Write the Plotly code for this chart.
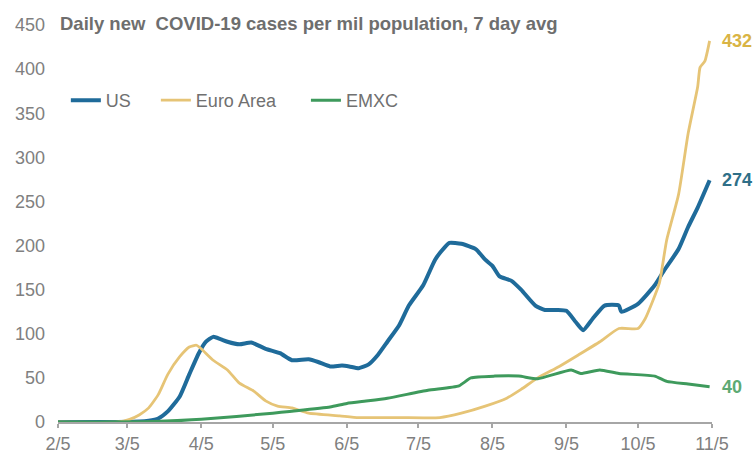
import plotly.graph_objects as go

# Daily new COVID-19 cases per million population, 7-day average (2020)
us_dates = ["2020-02-05", "2020-03-01", "2020-03-10", "2020-03-14", "2020-03-18", "2020-03-22",
            "2020-03-27", "2020-03-31", "2020-04-04", "2020-04-07", "2020-04-10", "2020-04-13",
            "2020-04-16", "2020-04-21", "2020-04-26", "2020-05-02", "2020-05-08", "2020-05-13",
            "2020-05-20", "2020-05-24", "2020-05-29", "2020-06-03", "2020-06-06", "2020-06-10",
            "2020-06-14", "2020-06-18", "2020-06-22", "2020-06-27", "2020-07-01", "2020-07-07",
            "2020-07-12", "2020-07-16", "2020-07-18", "2020-07-23", "2020-07-29", "2020-08-02",
            "2020-08-05", "2020-08-08", "2020-08-13", "2020-08-17", "2020-08-23", "2020-08-27",
            "2020-09-01", "2020-09-05", "2020-09-09", "2020-09-12", "2020-09-16", "2020-09-21",
            "2020-09-27", "2020-09-28", "2020-10-05", "2020-10-12", "2020-10-16", "2020-10-22",
            "2020-10-26", "2020-10-30", "2020-11-04"]
us_values = [0, 0, 0.5, 1.5, 4, 12,
             29, 54, 78, 91, 96.5, 94,
             91, 88, 90, 83, 78, 70,
             71, 68, 63, 64, 63, 61,
             65, 76, 91, 110, 132, 155,
             184, 198, 203, 202, 196, 184,
             177, 165, 160, 150, 132, 127,
             127, 126, 113, 104, 117, 132,
             132, 125, 134, 155, 172, 196,
             221, 243, 274]

euro_dates = ["2020-02-05", "2020-03-01", "2020-03-06", "2020-03-10", "2020-03-14", "2020-03-18",
              "2020-03-22", "2020-03-27", "2020-03-31", "2020-04-03", "2020-04-05", "2020-04-10",
              "2020-04-16", "2020-04-21", "2020-04-27", "2020-05-02", "2020-05-07", "2020-05-13",
              "2020-05-20", "2020-06-02", "2020-06-10", "2020-06-27", "2020-07-14", "2020-07-23",
              "2020-08-02", "2020-08-11", "2020-08-17", "2020-08-24", "2020-09-02", "2020-09-10",
              "2020-09-19", "2020-09-27", "2020-10-05", "2020-10-08", "2020-10-11", "2020-10-14",
              "2020-10-17", "2020-10-22", "2020-10-26", "2020-10-30", "2020-10-31", "2020-11-02",
              "2020-11-04"]
euro_values = [0, 0, 3, 8, 16, 31,
               54, 74, 85, 87, 83, 70,
               59, 44, 35, 24, 18, 16,
               10, 7, 5, 5, 5, 10,
               18, 27, 37, 50, 63, 76,
               91, 106, 106, 117, 136, 158,
               206, 258, 327, 380, 402, 409,
               432]

emxc_dates = ["2020-02-05", "2020-03-16", "2020-04-05", "2020-05-05", "2020-05-12", "2020-05-29",
              "2020-06-05", "2020-06-14", "2020-06-22", "2020-07-09", "2020-07-22", "2020-07-27",
              "2020-08-06", "2020-08-16", "2020-08-24", "2020-09-07", "2020-09-11", "2020-09-19",
              "2020-09-27", "2020-10-12", "2020-10-17", "2020-10-26", "2020-11-04"]
emxc_values = [0, 0.5, 3, 10, 12, 17,
               21, 24, 27, 36, 41, 50,
               52, 52, 49, 59, 55, 59,
               55, 52, 46, 43, 40]

x_ticks = ["2020-02-05", "2020-03-05", "2020-04-05", "2020-05-05", "2020-06-05", "2020-07-05",
           "2020-08-05", "2020-09-05", "2020-10-05", "2020-11-05"]
x_tick_labels = ["2/5", "3/5", "4/5", "5/5", "6/5", "7/5", "8/5", "9/5", "10/5", "11/5"]
y_ticks = [0, 50, 100, 150, 200, 250, 300, 350, 400, 450]

FONT = "Liberation Sans, Arial, sans-serif"
US_COLOR = "#1F6B9A"
EURO_COLOR = "#E6C476"
EMXC_COLOR = "#3E9A5C"
NB = "\u00a0"

fig = go.Figure()
fig.add_trace(go.Scatter(x=us_dates, y=us_values, name="US" + NB * 4, mode="lines",
                         line=dict(color=US_COLOR, width=4, shape="spline", smoothing=0.5)))
fig.add_trace(go.Scatter(x=euro_dates, y=euro_values, name="Euro Area" + NB * 5, mode="lines",
                         line=dict(color=EURO_COLOR, width=2.8, shape="spline", smoothing=0.5)))
fig.add_trace(go.Scatter(x=emxc_dates, y=emxc_values, name="EMXC", mode="lines",
                         line=dict(color=EMXC_COLOR, width=3, shape="spline", smoothing=0.5)))

# value labels at the end of each line
end_labels = [
    (euro_dates[-1], euro_values[-1], "#D9B444"),
    (us_dates[-1], us_values[-1], "#2F6F88"),
    (emxc_dates[-1], emxc_values[-1], "#5DAA73"),
]
for xd, yv, col in end_labels:
    fig.add_annotation(x=xd, y=yv, text=f"<b>{yv:g}</b>", showarrow=False,
                       xanchor="left", yanchor="middle", xshift=10,
                       font=dict(family=FONT, size=18, color=col))

fig.add_annotation(xref="paper", yref="paper", x=0, y=1.0, xanchor="left", yanchor="middle",
                   yshift=2,
                   text="<b>Daily new\u00a0 COVID-19 cases per mil population, 7 day avg</b>",
                   showarrow=False, font=dict(family=FONT, size=18.5, color="#6E6E6E"))

fig.update_layout(
    width=755, height=454,
    margin=dict(l=58, r=43, t=25, b=32, autoexpand=False),
    paper_bgcolor="white", plot_bgcolor="white",
    font=dict(family=FONT, size=18, color="#808080"),
    showlegend=True,
    legend=dict(orientation="h", x=0.012, y=0.81, xanchor="left", yanchor="middle",
                font=dict(family=FONT, size=18, color="#707070"),
                bgcolor="rgba(0,0,0,0)", itemwidth=30),
    xaxis=dict(type="date", range=["2020-02-05", "2020-11-05"],
               tickmode="array", tickvals=x_ticks, ticktext=x_tick_labels,
               showgrid=False, showline=True, linecolor="#A6A6A6", linewidth=2,
               ticks="outside", ticklen=4, tickcolor="#A6A6A6", tickwidth=1.5,
               automargin=False,
               tickfont=dict(family=FONT, size=18, color="#808080"), zeroline=False),
    yaxis=dict(range=[0, 450], tickmode="array", tickvals=y_ticks,
               showgrid=False, showline=False, zeroline=False, ticks="",
               ticklabelstandoff=12, automargin=False,
               tickfont=dict(family=FONT, size=18, color="#808080")),
)

fig.write_html("out.html")
